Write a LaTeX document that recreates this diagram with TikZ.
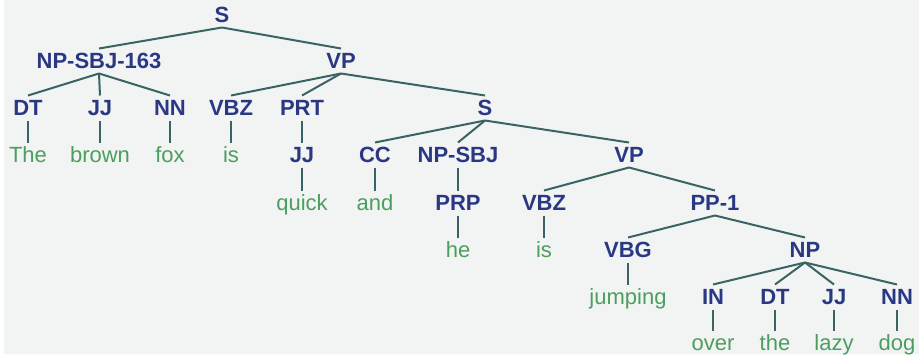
\documentclass[tikz,border=0pt]{standalone}
\usepackage{fontspec}
\setmainfont{Liberation Sans}
\definecolor{tagblue}{HTML}{2A3883}
\definecolor{wordgreen}{HTML}{4C9E5E}
\definecolor{edgegray}{HTML}{3A6464}
\definecolor{paper}{HTML}{F2F3F3}
\begin{document}
\begin{tikzpicture}[x=1pt, y=-1pt,
    tag/.style={font=\bfseries\fontsize{22}{25}\selectfont, text=tagblue, inner sep=0pt, outer sep=3pt, text height=17pt, text depth=2pt},
    word/.style={tag, font=\fontsize{22}{25}\selectfont, text=wordgreen},
    branch/.style={draw=edgegray, line width=2pt}]
    \useasboundingbox (0,0) rectangle (919,357);
    \fill[white] (0,0) rectangle (919,357);
    \fill[paper] (4,0) rectangle (919,354);
    % phrase and part-of-speech tags
    \foreach \n/\x/\y/\t in {s0/222/15/S, np0/99/61/NP-SBJ-163, vp0/341/61/VP,
      dt0/28/108/DT, jj0/100/108/JJ, nn0/170/108/NN, vbz0/231/108/VBZ, prt/302/108/PRT, s1/485/108/S,
      jj1/302/155/JJ, cc/375/155/CC, np1/458/155/NP-SBJ, vp1/629/155/VP,
      prp/458/203/PRP, vbz1/544/203/VBZ, pp/715/203/PP-1,
      vbg/628/250/VBG, np2/805/250/NP,
      in/713/297/IN, dt1/775/297/DT, jj2/834/297/JJ, nn1/897/297/NN}
      \node[tag] (\n) at (\x,\y) {\t};
    % words
    \foreach \n/\x/\y/\t in {w1/28/155/The, w2/100/155/brown, w3/170/155/fox, w4/231/155/is,
      w5/302/203/quick, w6/375/203/and, w7/458/250/he, w8/544/250/is,
      w9/628/297/jumping, w10/713/343/over, w11/775/343/the, w12/834/343/lazy, w13/897/343/dog}
      \node[word] (\n) at (\x,\y) {\t};
    \foreach \a/\b in {s0/np0, s0/vp0, np0/dt0, np0/jj0, np0/nn0, vp0/vbz0, vp0/prt, vp0/s1,
      dt0/w1, jj0/w2, nn0/w3, vbz0/w4, prt/jj1, jj1/w5,
      s1/cc, s1/np1, s1/vp1, cc/w6, np1/prp, prp/w7,
      vp1/vbz1, vp1/pp, vbz1/w8, pp/vbg, pp/np2, vbg/w9,
      np2/in, np2/dt1, np2/jj2, np2/nn1, in/w10, dt1/w11, jj2/w12, nn1/w13}
      \draw[branch] (\a.south) -- (\b.north);
\end{tikzpicture}
\end{document}
